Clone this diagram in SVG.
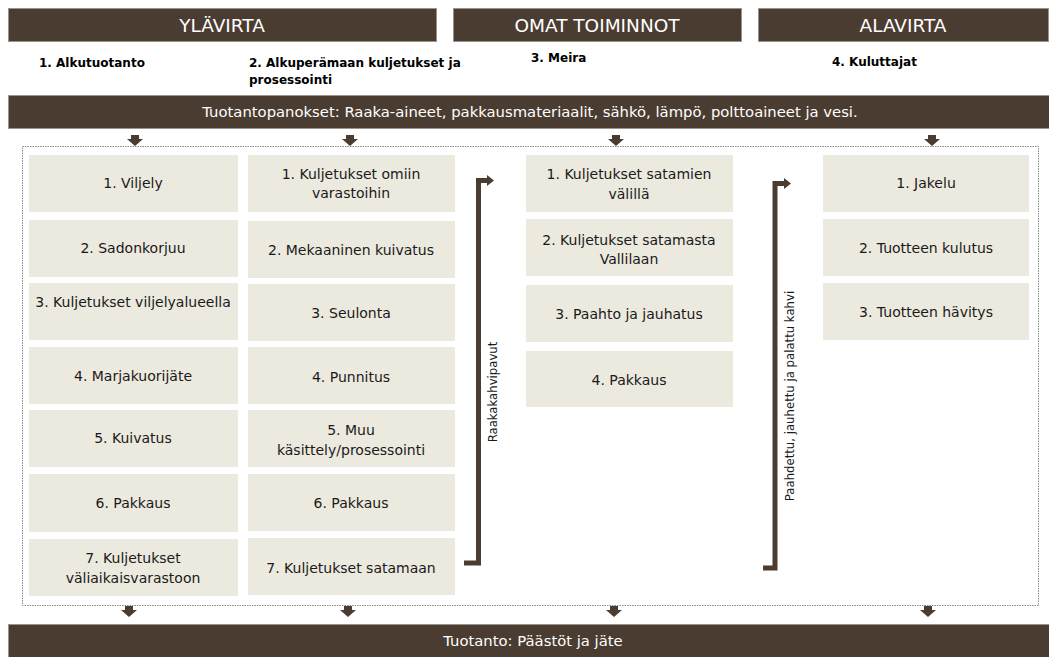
<svg xmlns="http://www.w3.org/2000/svg" width="1049" height="657" viewBox="0 0 1049 657">
<style>
.bar{fill:#4b3c31;stroke:#9b948c;stroke-width:1}
.bt{fill:#ffffff;font-family:"DejaVu Sans",sans-serif;text-anchor:middle}
.box{fill:#ece9df}
.t{fill:#1a1a1a;font-family:"DejaVu Sans",sans-serif;font-size:14px;text-anchor:middle}
.sub{fill:#000;font-family:"DejaVu Sans",sans-serif;font-size:12px;font-weight:bold}
.conn{fill:none;stroke:#4b3c31;stroke-width:5}
.ah{fill:#4b3c31}
.rot{fill:#1a1a1a;font-family:"DejaVu Sans Condensed","DejaVu Sans",sans-serif;font-size:13px;text-anchor:middle}
</style>
<defs>
<path id="down" d="M-4,0 H4 V4 H8 L0,11 L-8,4 H-4 Z" class="ah"/>
</defs>
<rect width="1049" height="657" fill="#ffffff"/>

<g id="header-ylavirta"><rect class="bar" x="8.5" y="8.5" width="428" height="33"/><text class="bt" x="222" y="32" font-size="18.5">YLÄVIRTA</text></g>
<g id="header-omat"><rect class="bar" x="453.5" y="8.5" width="288" height="33"/><text class="bt" x="597" y="32" font-size="18.5">OMAT TOIMINNOT</text></g>
<g id="header-alavirta"><rect class="bar" x="758.5" y="8.5" width="290" height="33"/><text class="bt" x="903" y="32" font-size="18.5">ALAVIRTA</text></g>

<g id="subtitles">
<text class="sub" x="39" y="67">1. Alkutuotanto</text>
<text class="sub" x="249" y="67">2. Alkuperämaan kuljetukset ja</text>
<text class="sub" x="249" y="84">prosessointi</text>
<text class="sub" x="531" y="62">3. Meira</text>
<text class="sub" x="832" y="66">4. Kuluttajat</text>
</g>

<g id="inputs"><rect class="bar" x="8.5" y="95.5" width="1041" height="33"/><text class="bt" x="530" y="117" font-size="14.8">Tuotantopanokset: Raaka-aineet, pakkausmateriaalit, sähkö, lämpö, polttoaineet ja vesi.</text></g>

<g id="outputs"><rect class="bar" x="8.5" y="624.5" width="1041" height="33"/><text class="bt" x="533" y="646" font-size="14.8">Tuotanto: Päästöt ja jäte</text></g>

<rect id="frame" x="22.5" y="146.5" width="1016" height="459" fill="none" stroke="#8a8a8a" stroke-width="1" stroke-dasharray="1.5,1"/>

<g id="col1">
<g id="c1r1"><rect class="box" x="29" y="155" width="209" height="57"/><text class="t" x="133" y="188">1. Viljely</text></g>
<g id="c1r2"><rect class="box" x="29" y="220" width="209" height="57"/><text class="t" x="133" y="253">2. Sadonkorjuu</text></g>
<g id="c1r3"><rect class="box" x="29" y="283" width="209" height="57"/><text class="t" x="133" y="307">3. Kuljetukset viljelyalueella</text></g>
<g id="c1r4"><rect class="box" x="29" y="347" width="209" height="57"/><text class="t" x="133" y="381">4. Marjakuorijäte</text></g>
<g id="c1r5"><rect class="box" x="29" y="410" width="209" height="57"/><text class="t" x="133" y="443">5. Kuivatus</text></g>
<g id="c1r6"><rect class="box" x="29" y="474" width="209" height="58"/><text class="t" x="133" y="508">6. Pakkaus</text></g>
<g id="c1r7"><rect class="box" x="29" y="539" width="209" height="57"/><text class="t" x="133" y="563">7. Kuljetukset</text><text class="t" x="133" y="583">väliaikaisvarastoon</text></g>
</g>

<g id="col2">
<g id="c2r1"><rect class="box" x="248" y="155" width="207" height="57"/><text class="t" x="351" y="179">1. Kuljetukset omiin</text><text class="t" x="351" y="198">varastoihin</text></g>
<g id="c2r2"><rect class="box" x="248" y="221" width="207" height="57"/><text class="t" x="351" y="255">2. Mekaaninen kuivatus</text></g>
<g id="c2r3"><rect class="box" x="248" y="284" width="207" height="57"/><text class="t" x="351" y="318">3. Seulonta</text></g>
<g id="c2r4"><rect class="box" x="248" y="347" width="207" height="57"/><text class="t" x="351" y="382">4. Punnitus</text></g>
<g id="c2r5"><rect class="box" x="248" y="410" width="207" height="57"/><text class="t" x="351" y="435">5. Muu</text><text class="t" x="351" y="455">käsittely/prosessointi</text></g>
<g id="c2r6"><rect class="box" x="248" y="474" width="207" height="57"/><text class="t" x="351" y="508">6. Pakkaus</text></g>
<g id="c2r7"><rect class="box" x="248" y="538" width="207" height="57"/><text class="t" x="351" y="573">7. Kuljetukset satamaan</text></g>
</g>

<g id="col3">
<g id="c3r1"><rect class="box" x="526" y="155" width="207" height="57"/><text class="t" x="629" y="179">1. Kuljetukset satamien</text><text class="t" x="629" y="199">välillä</text></g>
<g id="c3r2"><rect class="box" x="526" y="219" width="207" height="57"/><text class="t" x="629" y="245">2. Kuljetukset satamasta</text><text class="t" x="629" y="264">Vallilaan</text></g>
<g id="c3r3"><rect class="box" x="526" y="285" width="207" height="57"/><text class="t" x="629" y="319">3. Paahto ja jauhatus</text></g>
<g id="c3r4"><rect class="box" x="526" y="351" width="207" height="56"/><text class="t" x="629" y="385">4. Pakkaus</text></g>
</g>

<g id="col4">
<g id="c4r1"><rect class="box" x="823" y="155" width="206" height="57"/><text class="t" x="926" y="188">1. Jakelu</text></g>
<g id="c4r2"><rect class="box" x="823" y="219" width="206" height="57"/><text class="t" x="926" y="253">2. Tuotteen kulutus</text></g>
<g id="c4r3"><rect class="box" x="823" y="283" width="206" height="57"/><text class="t" x="926" y="317">3. Tuotteen hävitys</text></g>
</g>

<g id="connectors">
<path class="conn" d="M464,563 H478.5 V180.5 H488"/>
<path class="ah" d="M487,175 L494,180.5 L487,186 Z"/>
<path class="conn" d="M763,568 H775 V183.5 H785"/>
<path class="ah" d="M784,178 L791,183.5 L784,189 Z"/>
<use href="#down" x="135" y="135"/>
<use href="#down" x="350" y="135"/>
<use href="#down" x="616" y="135"/>
<use href="#down" x="932" y="135"/>
<use href="#down" x="129" y="606"/>
<use href="#down" x="348" y="606"/>
<use href="#down" x="614" y="606"/>
<use href="#down" x="928" y="606"/>
</g>

<g id="labels">
<text class="rot" transform="translate(497,392) rotate(-90)">Raakakahvipavut</text>
<text class="rot" transform="translate(794,396) rotate(-90)">Paahdettu, jauhettu ja palattu kahvi</text>
</g>
</svg>
